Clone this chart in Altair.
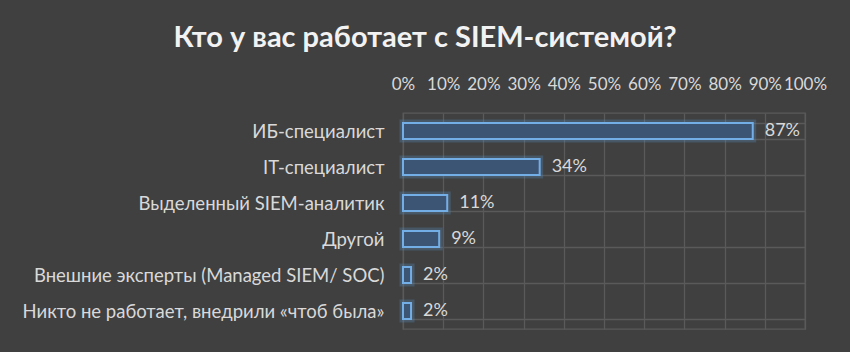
import altair as alt
import pandas as pd

categories = [
    "ИБ-специалист",
    "IT-специалист",
    "Выделенный SIEM-аналитик",
    "Другой",
    "Внешние эксперты (Managed SIEM/ SOC)",
    "Никто не работает, внедрили «чтоб была»",
]
values = [0.87, 0.34, 0.11, 0.09, 0.02, 0.02]
labels = ["87%", "34%", "11%", "9%", "2%", "2%"]
tick_values = [0.0, 0.1, 0.2, 0.3, 0.4, 0.5, 0.6, 0.7, 0.8, 0.9, 1.0]

df = pd.DataFrame({"cat": categories, "val": values, "lab": labels})

FONT = "Lato"
BG = "#404040"
GRID = "#5a5a5a"
TXT = "#d9d9d9"

x = alt.X(
    "val:Q",
    scale=alt.Scale(domain=[0, 1], nice=False, zero=True),
    axis=alt.Axis(
        orient="top", format=".0%", values=tick_values,
        labelColor=TXT, labelFont=FONT, labelFontSize=17, labelPadding=20,
        ticks=False, domain=False, gridColor=GRID, gridWidth=1.3,
        labelOverlap=False, labelFlush=False, labelBound=False, title=None,
    ),
)
y = alt.Y(
    "cat:N",
    sort=categories,
    scale=alt.Scale(paddingInner=0.56, paddingOuter=0.28),
    axis=alt.Axis(
        labelColor=TXT, labelFont=FONT, labelFontSize=18.5, labelPadding=19,
        ticks=False, domain=False, grid=True, tickBand="extent",
        gridColor=GRID, gridWidth=1.3, title=None, labelLimit=400,
    ),
)

base = alt.Chart(df)

glow = base.mark_bar(
    fillOpacity=0.0, stroke="#5b9bd5", strokeWidth=7, strokeOpacity=0.25,
).encode(x=x, y=y)

bars = base.mark_bar(
    fill="#3c5574", stroke="#74aee6", strokeWidth=2,
).encode(x=x, y=y)

text = base.mark_text(
    align="left", baseline="middle", dx=12, font=FONT, fontSize=18, color=TXT,
).encode(x=x, y=y, text="lab:N")

chart = (
    alt.layer(glow, bars, text)
    .properties(
        width=402,
        height=216,
        background=BG,
        padding={"left": 403, "top": 113, "right": 45, "bottom": 23},
        autosize=alt.AutoSizeParams(type="none"),
        title=alt.TitleParams(
            "Кто у вас работает с SIEM-системой?",
            font=FONT, fontSize=29, fontWeight="bold", color="#f2f2f2",
            anchor="middle", frame="group", dx=-179, offset=22,
        ),
    )
    .configure_view(stroke=GRID, strokeWidth=1.3)
)

chart.save("out.html", embed_options={"renderer": "svg", "actions": False})
